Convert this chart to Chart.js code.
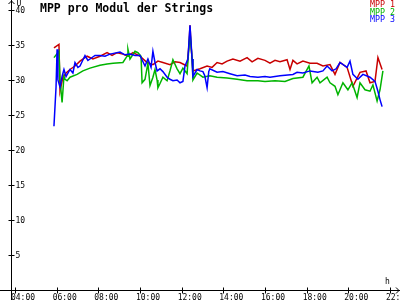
<!DOCTYPE html>
<html><head><meta charset="utf-8">
<script src="https://cdn.jsdelivr.net/npm/chart.js@4"></script>
<style>html,body{margin:0;padding:0;background:#fff}#wrap{width:400px;height:300px}</style>
</head><body><div id="wrap"><canvas id="c" width="400" height="300"></canvas></div>
<script>
const title = "MPP pro Modul der Strings";
const seriesNames = ["MPP 1", "MPP 2", "MPP 3"];
const xTicks = [4, 6, 8, 10, 12, 14, 16, 18, 20, 22];
const yTicks = [5, 10, 15, 20, 25, 30, 35, 40];

const t1 = [5.87,6.11,6.16,6.30,6.45,6.64,6.88,7.12,7.46,7.74,8.08,8.42,8.66,8.90,9.18,9.42,9.66,10.00,10.34,10.62,10.86,11.10,11.44,11.68,11.92,12.26,12.35,12.40,12.45,12.54,12.88,13.22,13.46,13.70,13.94,14.18,14.46,14.80,15.14,15.38,15.66,16.00,16.24,16.48,16.72,17.06,17.20,17.34,17.54,17.82,18.16,18.50,18.78,19.12,19.36,19.60,19.94,20.22,20.56,20.85,21.04,21.28,21.42,21.62];
const v1 = [34.6,35.1,28.4,30.4,31.0,31.5,32.0,32.7,33.4,33.0,33.4,33.9,33.5,33.9,33.7,33.4,33.9,33.4,32.5,32.2,32.7,32.5,32.2,32.6,32.5,32.0,35.0,37.8,35.0,31.3,31.6,32.0,31.8,32.5,32.3,32.7,33.0,32.7,33.2,32.6,33.1,32.8,32.4,32.8,32.6,32.9,31.5,32.8,32.3,32.7,32.4,32.4,32.0,32.2,30.8,32.5,31.8,29.1,31.1,31.3,29.6,29.8,33.2,31.5];

const t2 = [5.87,6.11,6.16,6.26,6.35,6.40,6.50,6.64,6.98,7.26,7.60,8.08,8.42,8.71,9.18,9.38,9.42,9.52,9.76,9.90,10.05,10.10,10.24,10.38,10.48,10.62,10.72,10.82,10.86,10.96,11.10,11.30,11.44,11.58,11.78,11.92,12.06,12.26,12.40,12.50,12.54,12.74,13.02,13.35,13.70,14.18,14.66,15.14,15.66,16.00,16.48,16.96,17.34,17.82,18.11,18.26,18.50,18.64,18.98,19.12,19.36,19.50,19.74,19.98,20.18,20.42,20.56,20.80,21.04,21.18,21.38,21.52,21.66];
const v2 = [33.2,34.1,30.0,26.8,30.5,30.1,29.9,30.4,30.8,31.3,31.7,32.1,32.3,32.4,32.5,33.4,34.4,33.0,34.1,33.9,33.4,29.6,30.1,32.4,29.2,30.4,31.5,30.0,28.9,29.5,30.4,29.9,31.3,32.9,31.6,30.9,31.7,30.9,36.9,33.0,30.0,31.0,30.4,30.6,30.4,30.3,30.1,29.9,29.9,29.8,29.9,29.8,30.2,30.4,32.0,29.6,30.4,29.6,30.4,29.6,29.1,27.9,29.6,28.6,29.6,27.5,29.6,28.6,28.4,29.3,27.0,28.6,31.3];

const t3 = [5.87,5.97,6.02,6.06,6.16,6.26,6.35,6.45,6.64,6.78,6.88,7.02,7.12,7.36,7.50,7.60,7.84,8.08,8.32,8.56,9.04,9.28,9.52,9.76,10.00,10.24,10.38,10.53,10.62,10.72,10.82,10.96,11.10,11.30,11.44,11.58,11.78,11.92,12.06,12.16,12.30,12.40,12.50,12.54,12.74,12.88,13.02,13.11,13.22,13.30,13.35,13.70,13.98,14.32,14.66,15.04,15.28,15.66,16.00,16.24,16.72,17.34,17.54,17.82,18.16,18.54,18.78,18.98,19.22,19.41,19.60,19.94,20.08,20.22,20.46,20.70,21.04,21.28,21.42,21.52,21.62];
const v3 = [23.4,29.0,34.4,30.0,29.0,30.5,31.5,30.5,31.5,31.0,32.5,31.8,32.0,33.5,32.8,33.0,33.5,33.5,33.4,33.7,34.0,33.6,33.7,33.5,33.5,32.0,33.0,31.8,34.1,32.5,31.3,31.6,31.2,30.4,30.1,29.9,30.0,29.6,29.8,32.0,33.0,37.8,33.0,30.5,31.5,31.3,31.2,30.6,28.9,31.2,31.6,31.1,31.2,30.9,30.6,30.7,30.5,30.4,30.5,30.4,30.6,30.8,31.1,31.0,31.3,31.1,31.3,32.0,31.3,31.6,32.5,31.8,32.7,30.8,30.1,30.8,30.4,29.8,28.4,27.2,26.2];

const colors = ["#c80000", "#00b400", "#0000ff"];
const FONT = '"DejaVu Sans Mono", monospace';

function pts(t, v) { return t.map((x, i) => ({ x: x, y: v[i] })); }

const axesPlugin = {
  id: 'axesPlugin',
  afterDraw(chart) {
    const ctx = chart.ctx;
    const xs = chart.scales.x, ys = chart.scales.y;
    const x0 = Math.round(xs.left) + 0.5;
    const y0 = Math.round(ys.getPixelForValue(0)) + 0.5;
    ctx.save();
    ctx.strokeStyle = '#000';
    ctx.fillStyle = '#000';
    ctx.lineWidth = 1;
    ctx.beginPath();
    ctx.moveTo(x0, 0); ctx.lineTo(x0, 300);
    ctx.moveTo(0, y0); ctx.lineTo(400, y0);
    ctx.moveTo(x0 - 3, 4); ctx.lineTo(x0, 1); ctx.lineTo(x0 + 3, 4);
    ctx.moveTo(396, y0 - 3); ctx.lineTo(399, y0); ctx.lineTo(396, y0 + 3);
    yTicks.forEach(v => {
      const py = Math.round(ys.getPixelForValue(v)) + 0.5;
      ctx.moveTo(x0 - 3, py); ctx.lineTo(x0 + 3, py);
    });
    xTicks.forEach(v => {
      const px = Math.round(xs.getPixelForValue(v)) + 0.5;
      ctx.moveTo(px, y0 - 3); ctx.lineTo(px, y0 + 3);
    });
    ctx.stroke();
    ctx.font = '8px ' + FONT;
    ctx.textAlign = 'left';
    ctx.textBaseline = 'middle';
    yTicks.forEach(v => {
      const py = Math.round(ys.getPixelForValue(v));
      ctx.fillText(String(v), x0 + 4, py + 1);
    });
    ctx.textAlign = 'center';
    ctx.textBaseline = 'alphabetic';
    xTicks.forEach(v => {
      const px = xs.getPixelForValue(v);
      const lbl = String(v).padStart(2, '0') + ':00';
      ctx.fillText(lbl, px + 8, y0 + 9);
    });
    ctx.textAlign = 'left';
    ctx.fillText('U', x0 + 5, 6);
    ctx.fillText('h', 385, 284);
    ctx.font = 'bold 11.5px ' + FONT;
    ctx.fillText(title, 40, 12);
    ctx.font = '8.3px ' + FONT;
    ctx.textAlign = 'right';
    seriesNames.forEach((n, i) => {
      ctx.fillStyle = colors[i];
      ctx.fillText(n, 395, 7 + i * 7.5);
    });
    ctx.restore();
  }
};

new Chart(document.getElementById('c'), {
  type: 'line',
  data: {
    datasets: [
      { label: seriesNames[0], data: pts(t1, v1), borderColor: colors[0], order: 2 },
      { label: seriesNames[1], data: pts(t2, v2), borderColor: colors[1], order: 1 },
      { label: seriesNames[2], data: pts(t3, v3), borderColor: colors[2], order: 0 }
    ]
  },
  options: {
    responsive: false,
    animation: false,
    devicePixelRatio: 1,
    layout: { padding: { left: 11, right: 1, top: 10, bottom: 10 } },
    elements: {
      point: { radius: 0 },
      line: { borderWidth: 1.5, tension: 0, fill: false }
    },
    plugins: { legend: { display: false }, tooltip: { enabled: false }, title: { display: false } },
    scales: {
      x: { type: 'linear', display: false, min: 3.808, max: 22.432 },
      y: { type: 'linear', display: false, min: 0, max: 40 }
    }
  },
  plugins: [axesPlugin]
});
</script>
</body></html>
